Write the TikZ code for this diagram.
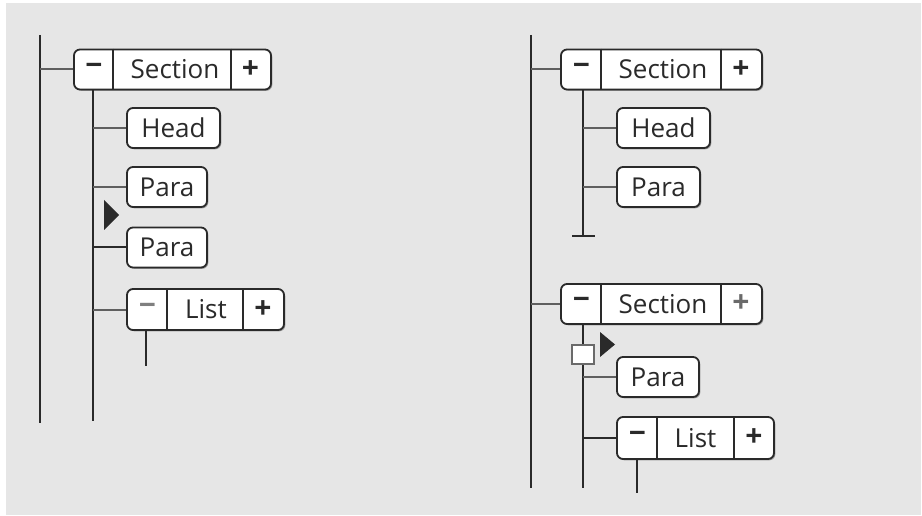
\documentclass[tikz,border=0pt]{standalone}
\usepackage{fontspec}
\setmainfont{Open Sans}
\usetikzlibrary{calc, shadows}
\definecolor{bgray}{HTML}{E6E6E6}
\definecolor{ink}{HTML}{2A2A2A}

\tikzset{
  elem/.style={draw=ink, fill=white, line width=1.8pt, rounded corners=6pt, inner sep=0pt,
    drop shadow={shadow xshift=1.3pt, shadow yshift=-1.3pt, fill=black!40, opacity=1}},
  txt/.style={text=ink, font=\fontsize{26}{26}\selectfont, inner sep=0pt},
  btxt/.style={txt, font=\fontsize{30}{30}\selectfont\bfseries},
  wire/.style={ink, line width=2pt},
  hwire/.style={ink!75, line width=2pt},
}

\begin{document}
\begin{tikzpicture}[x=1pt, y=-1pt]
  % Page and background
  \useasboundingbox (0,0) rectangle (922,516);
  \fill[bgray] (6,3) rectangle (921,515);

  % Left tree: spines
  \coordinate (Ltop) at (40,35);
  \coordinate (Lbot) at (40,423);
  \coordinate (Sbot) at (93,421);
  \draw[wire] (Ltop) -- (Lbot);

  % Section with its - and + cells
  \node[elem, minimum width=197, minimum height=40] (secA) at (172.5,69.5) {};
  \draw[wire] ($(secA.north west)+(40,0)$) -- ($(secA.south west)+(40,0)$);
  \draw[wire] ($(secA.north east)+(-41,0)$) -- ($(secA.south east)+(-41,0)$);
  \node[btxt] at (94,69) {−};
  \node[txt] at (175,69.5) {Section};
  \node[btxt] at (250.5,69.5) {+};
  \draw[hwire] (Ltop |- secA.west) -- (secA.west);
  \draw[wire] (Sbot |- secA.south) -- (Sbot);

  % Children of the section
  \node[elem, txt, minimum width=93, minimum height=40] (headA) at (173.5,128) {Head};
  \node[elem, txt, minimum width=80, minimum height=40] (paraA) at (167,187) {Para};
  \node[elem, txt, minimum width=80, minimum height=40] (paraB) at (167,247.5) {Para};
  \draw[hwire] (Sbot |- headA.west) -- (headA.west);
  \draw[hwire] (Sbot |- paraA.west) -- (paraA.west);
  \draw[wire] (Sbot |- paraB.west) -- (paraB.west);

  % Insertion mark
  \fill[ink] (104,200) -- (119,215) -- (104,230) -- cycle;

  % List with its - and + cells
  \node[elem, minimum width=157, minimum height=41] (listA) at (205.5,309.5) {};
  \draw[wire] ($(listA.north west)+(41,0)$) -- ($(listA.south west)+(41,0)$);
  \draw[wire] ($(listA.north east)+(-42,0)$) -- ($(listA.south east)+(-42,0)$);
  \node[btxt, text=ink!60] at (147.5,309) {−};
  \node[txt] at (206,309.5) {List};
  \node[btxt] at (263,309.5) {+};
  \draw[hwire] (Sbot |- listA.west) -- (listA.west);
  \coordinate (Lend) at (146,366);
  \draw[wire] (Lend |- listA.south) -- (Lend);

  % Right tree: spine
  \coordinate (Rtop) at (531,35);
  \coordinate (Rbot) at (531,488);
  \draw[wire] (Rtop) -- (Rbot);

  % First section
  \node[elem, minimum width=201, minimum height=40] (secB) at (661.5,69.5) {};
  \draw[wire] ($(secB.north west)+(41,0)$) -- ($(secB.south west)+(41,0)$);
  \draw[wire] ($(secB.north east)+(-42,0)$) -- ($(secB.south east)+(-42,0)$);
  \node[btxt] at (581.5,69) {−};
  \node[txt] at (663,69.5) {Section};
  \node[btxt] at (741,69.5) {+};
  \draw[hwire] (Rtop |- secB.west) -- (secB.west);
  \coordinate (Tbot) at (583,236);
  \draw[wire] (Tbot |- secB.south) -- (Tbot);
  \draw[wire] ($(Tbot)+(-11,0)$) -- ($(Tbot)+(12,0)$);

  \node[elem, txt, minimum width=93, minimum height=40] (headB) at (663.5,128) {Head};
  \node[elem, txt, minimum width=83, minimum height=40] (paraC) at (658.5,187) {Para};
  \draw[hwire] (Tbot |- headB.west) -- (headB.west);
  \draw[hwire] (Tbot |- paraC.west) -- (paraC.west);

  % Second section
  \node[elem, minimum width=201, minimum height=40] (secC) at (661.5,304) {};
  \draw[wire] ($(secC.north west)+(41,0)$) -- ($(secC.south west)+(41,0)$);
  \draw[wire] ($(secC.north east)+(-42,0)$) -- ($(secC.south east)+(-42,0)$);
  \node[btxt] at (581.5,303.5) {−};
  \node[txt] at (663,304) {Section};
  \node[btxt, text=ink!70] at (741,304) {+};
  \draw[hwire] (Rtop |- secC.west) -- (secC.west);
  \coordinate (Ubot) at (583,488);
  \draw[wire] (Ubot |- secC.south) -- (Ubot);

  % Gap marker and insertion mark
  \node[draw=ink!70, fill=white, line width=1.6pt, minimum width=22, minimum height=19, inner sep=0pt] (gapC) at (583,354.5) {};
  \fill[ink] (600,332) -- (615,344.5) -- (600,357) -- cycle;

  \node[elem, txt, minimum width=82, minimum height=40] (paraD) at (658,377) {Para};
  \node[elem, minimum width=157, minimum height=42] (listB) at (695.5,438) {};
  \draw[wire] ($(listB.north west)+(41,0)$) -- ($(listB.south west)+(41,0)$);
  \draw[wire] ($(listB.north east)+(-41,0)$) -- ($(listB.south east)+(-41,0)$);
  \node[btxt] at (637.5,437.5) {−};
  \node[txt] at (695.5,438) {List};
  \node[btxt] at (754,438) {+};
  \draw[hwire] (Ubot |- paraD.west) -- (paraD.west);
  \draw[wire] (Ubot |- listB.west) -- (listB.west);
  \coordinate (Mend) at (637,493);
  \draw[wire] (Mend |- listB.south) -- (Mend);
\end{tikzpicture}
\end{document}
